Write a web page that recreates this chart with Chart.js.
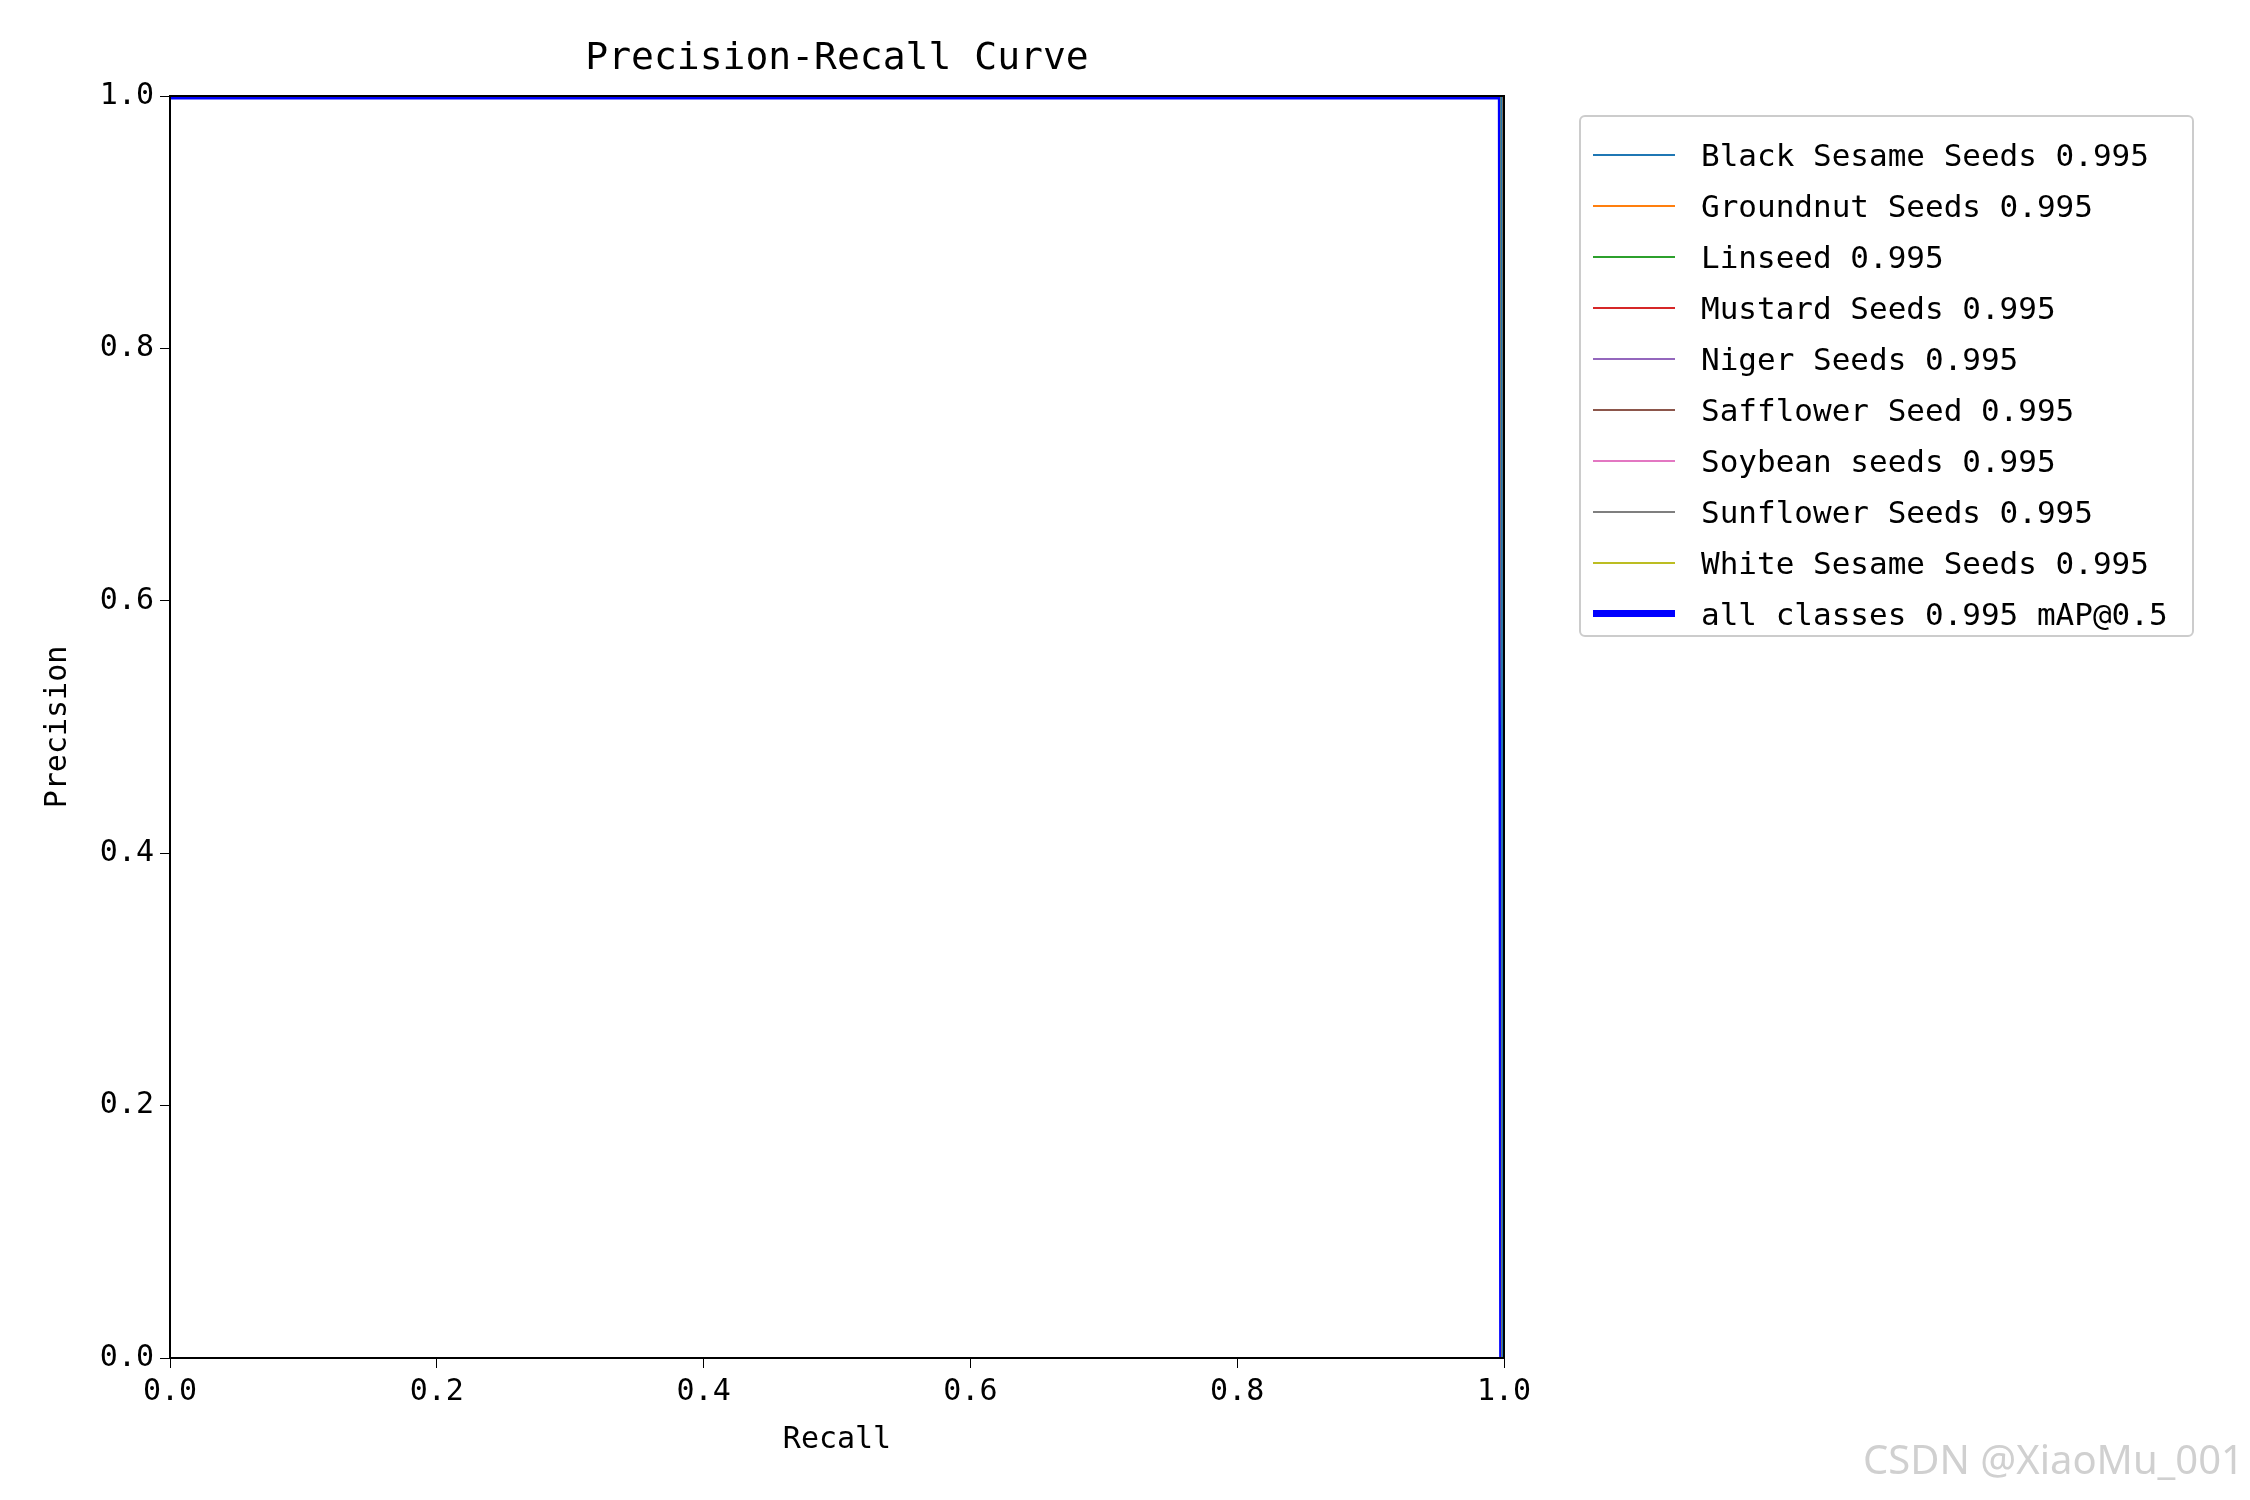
<!DOCTYPE html>
<html>
<head>
<meta charset="utf-8">
<script src="https://cdn.jsdelivr.net/npm/chart.js@4"></script>
<style>
body { margin: 0; background: #fff; font-family: "DejaVu Sans Mono", monospace; }
#wrap { position: relative; width: 2250px; height: 1500px; }
#title { position: absolute; left: 170px; width: 1334px; top: 34px; text-align: center; font-size: 38px; }
#legend { position: absolute; left: 1579px; top: 115px; width: 615px; height: 522px; border: 2px solid #ccc; border-radius: 6px; box-sizing: border-box; padding: 12px 0 0 12px; font-size: 31px; white-space: nowrap; }
.row { display: flex; align-items: center; height: 51px; }
.sw { width: 82px; margin-right: 26px; }
#mark { position: absolute; right: 6px; bottom: 14px; font-family: "Noto Sans", sans-serif; font-size: 40px; color: #d0d0d0; }
</style>
</head>
<body>
<div id="wrap">
<canvas id="pr" width="2250" height="1500"></canvas>
<div id="title">Precision-Recall Curve</div>
<div id="legend"></div>
<div id="mark">CSDN @XiaoMu_001</div>
</div>
<script>
var classNames = ["Black Sesame Seeds", "Groundnut Seeds", "Linseed", "Mustard Seeds", "Niger Seeds", "Safflower Seed", "Soybean seeds", "Sunflower Seeds", "White Sesame Seeds"];
var classAP = [0.995, 0.995, 0.995, 0.995, 0.995, 0.995, 0.995, 0.995, 0.995];
var classColors = ["#1f77b4", "#ff7f0e", "#2ca02c", "#d62728", "#9467bd", "#8c564b", "#e377c2", "#7f7f7f", "#bcbd22"];
var recall = [0, 0.998, 0.999];
var precision = [1, 1, 0];
var allAP = 0.995;
var tickValues = [0, 0.2, 0.4, 0.6, 0.8, 1.0];

function pts() { return recall.map(function (r, i) { return { x: r, y: precision[i] }; }); }

var datasets = classNames.map(function (n, i) {
    return { label: n + " " + classAP[i].toFixed(3), data: pts(), borderColor: classColors[i], borderWidth: 2 };
});
datasets.push({ label: "all classes " + allAP.toFixed(3) + " mAP@0.5", data: pts(), borderColor: "#0000ff", borderWidth: 7 });

var leg = document.getElementById('legend');
datasets.forEach(function (d) {
    var row = document.createElement('div');
    row.className = 'row';
    row.innerHTML = '<div class="sw" style="border-top:' + d.borderWidth + 'px solid ' + d.borderColor + '"></div><span>' + d.label + '</span>';
    leg.appendChild(row);
});

var frame = {
    id: 'frame',
    afterDatasetsDraw: function (c) {
        var a = c.chartArea, g = c.ctx;
        g.save(); g.strokeStyle = '#000'; g.lineWidth = 2;
        g.strokeRect(a.left, a.top, a.right - a.left, a.bottom - a.top);
        g.restore();
    }
};

var tickFont = { family: "DejaVu Sans Mono", size: 30 };
new Chart(document.getElementById('pr'), {
    type: 'scatter',
    data: { datasets: datasets },
    options: {
        responsive: false,
        animation: false,
        showLine: true,
        elements: { point: { radius: 0 }, line: { tension: 0 } },
        layout: { padding: { left: 40, right: 746, top: 96, bottom: 42 } },
        plugins: { legend: { display: false }, tooltip: { enabled: false } },
        scales: {
            x: {
                type: 'linear', min: 0, max: 1,
                afterFit: function (s) { s.height = 100; },
                afterBuildTicks: function (s) { s.ticks = tickValues.map(function (v) { return { value: v }; }); },
                ticks: { color: '#000', font: tickFont, maxRotation: 0, padding: 6, callback: function (v) { return v.toFixed(1); } },
                grid: { drawOnChartArea: false, color: '#000', tickLength: 10 },
                border: { color: '#000', width: 2 },
                title: { display: true, text: 'Recall', color: '#000', font: tickFont, padding: 0 }
            },
            y: {
                type: 'linear', min: 0, max: 1,
                afterFit: function (s) { s.width = 130; },
                afterBuildTicks: function (s) { s.ticks = tickValues.map(function (v) { return { value: v }; }); },
                ticks: { color: '#000', font: tickFont, padding: 6, callback: function (v) { return v.toFixed(1); } },
                grid: { drawOnChartArea: false, color: '#000', tickLength: 10 },
                border: { color: '#000', width: 2 },
                title: { display: true, text: 'Precision', color: '#000', font: tickFont, padding: 0 }
            }
        }
    },
    plugins: [frame]
});
</script>
</body>
</html>
